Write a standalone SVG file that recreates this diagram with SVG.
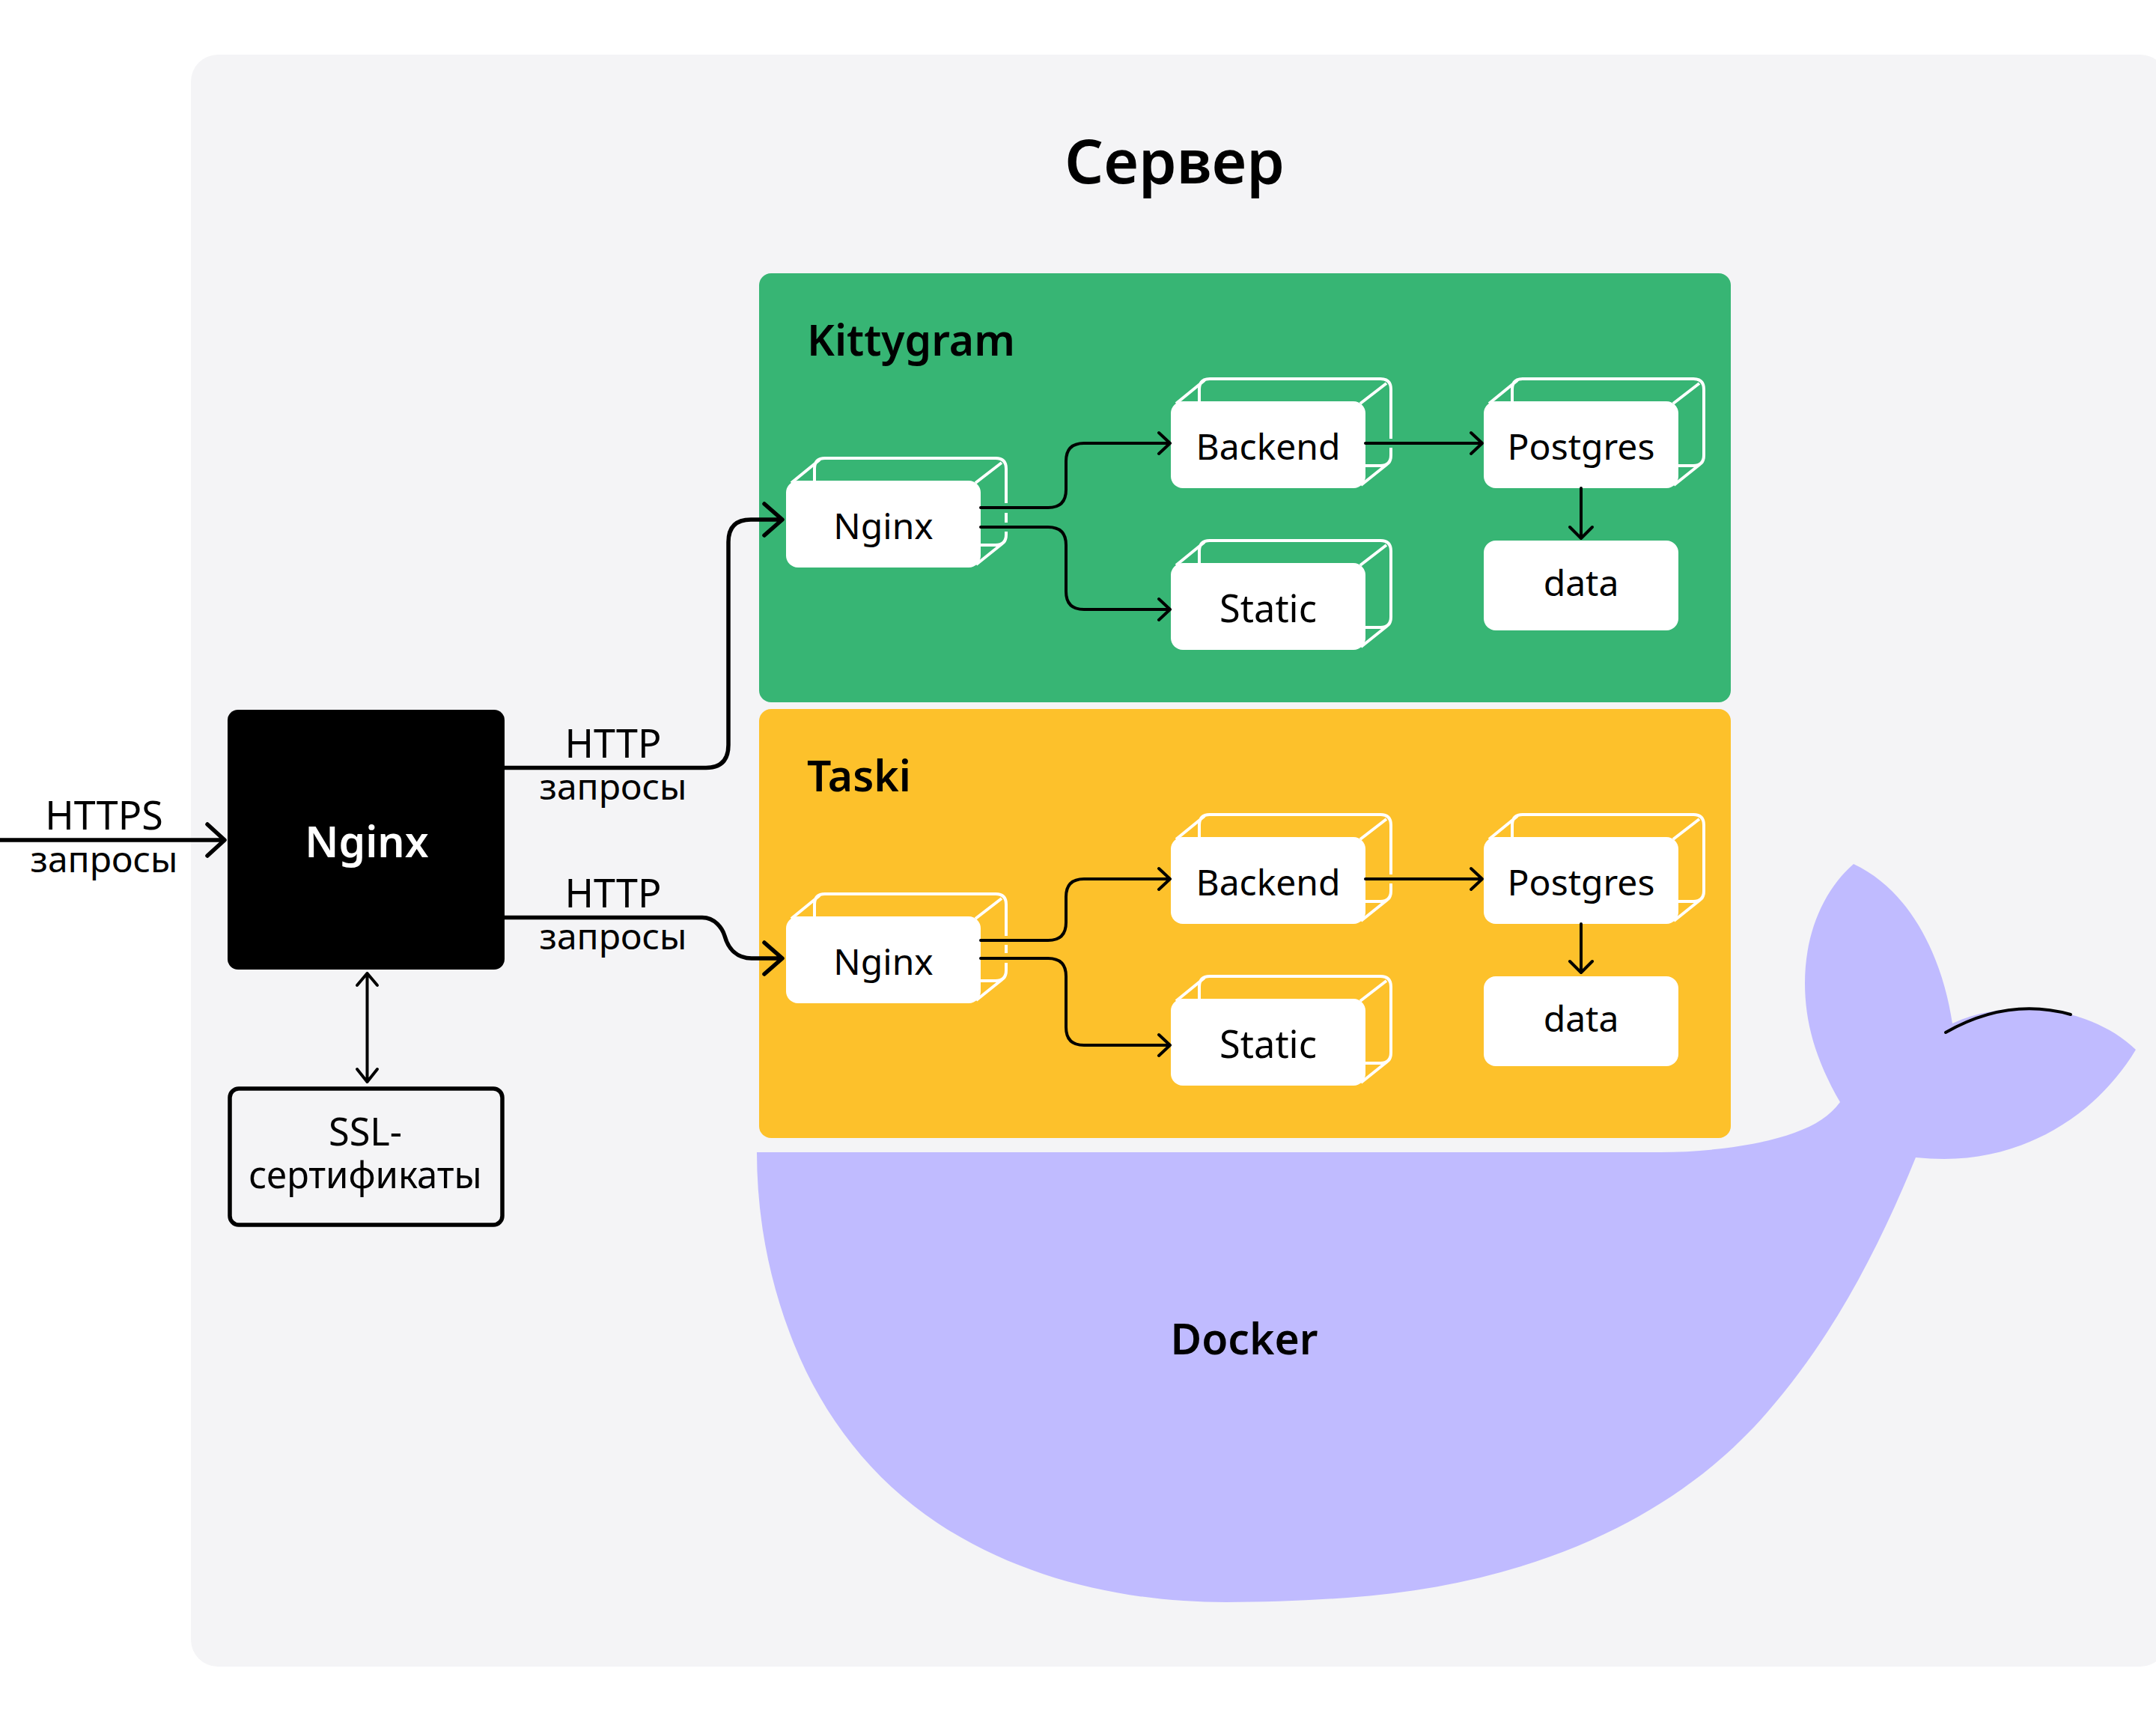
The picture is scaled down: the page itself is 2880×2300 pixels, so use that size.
<svg xmlns="http://www.w3.org/2000/svg" width="2880" height="2300" viewBox="0 0 2880 2300">
<style>
text{font-family:"Noto Sans","Liberation Sans",sans-serif;fill:#000;text-anchor:middle}
.l{font-size:48px}
.k{font-size:50.500px}
.p{font-size:52px}
.h{font-size:57px;font-weight:600}
.w{fill:#fff;stroke:none}
.c{fill:none;stroke:#fff;stroke-width:4;stroke-linecap:butt}
.t{fill:none;stroke:#000;stroke-width:4;stroke-linecap:round;stroke-linejoin:round}
.b{fill:none;stroke:#000;stroke-width:5.500;stroke-linecap:round;stroke-linejoin:round}
</style>
<defs>
<rect id="front" class="w" width="260" height="116" rx="16"/>
<path id="frame" class="c" d="M7 3 L45 -28 M38 2 V-16 Q38 -30 52 -30 H280 Q294 -30 294 -16 M253 3 L288 -24 M258 86 H280 Q294 86 294 72 M254 112 L289 84"/>
<g id="cube-kn"><use href="#frame"/><path class="c" d="M294 -16 V30 M294 43 V56 M294 68 V72"/><use href="#front"/></g>
<g id="cube-tn"><use href="#frame"/><path class="c" d="M294 -16 V26 M294 38 V49 M294 62 V72"/><use href="#front"/></g>
<g id="cube-b"><use href="#frame"/><path class="c" d="M294 -16 V50 M294 62 V72"/><use href="#front"/></g>
<g id="cube-s"><use href="#frame"/><path class="c" d="M294 -16 V72"/><use href="#front"/></g>
</defs>
<rect id="server" x="255" y="73" width="2640" height="2153" rx="36" fill="#f4f4f6"/>
<text x="1569" y="245" style="font-size:81px;font-weight:600">Сервер</text>
<g id="docker">
<path fill="#c0bbff" d="M1011 1539 H2218 C2280 1539 2350 1530 2397 1513 C2425 1503 2445 1490 2458 1472 C2425 1415 2411 1365 2411 1313 C2411 1245 2437 1188 2476 1154 C2553 1190 2595 1280 2608 1367 C2640 1352 2675 1347 2708 1347 C2755 1347 2815 1365 2853 1402 C2800 1490 2705 1548 2597 1548 C2585 1548 2572 1547 2559 1546 C2509 1669 2448 1786 2361 1886 C2222 2047 2012 2119 1800 2134 C1745 2138 1690 2140 1638 2140 C1505 2140 1370 2110 1258 2038 C1168 1980 1101 1895 1061 1796 C1028 1714 1011 1628 1011 1539 Z"/>
<path fill="none" stroke="#000" stroke-width="4" stroke-linecap="round" d="M2599 1379 C2650 1350 2705 1338 2766 1355"/>
<text class="h" x="1662" y="1809">Docker</text>
</g>
<g id="kittygram">
<rect x="1014" y="365" width="1298" height="573" rx="16" fill="#37b574"/>
<text class="h" x="1078" y="475" style="text-anchor:start">Kittygram</text>
</g>
<g id="taski">
<rect x="1014" y="947" width="1298" height="573" rx="16" fill="#fdc12b"/>
<text class="h" x="1078" y="1057" style="text-anchor:start">Taski</text>
</g>
<g id="k-nginx"><use href="#cube-kn" x="1050" y="642"/><text class="l" x="1180" y="720">Nginx</text></g>
<g id="k-backend"><use href="#cube-b" x="1564" y="536"/><text class="l" x="1694" y="614">Backend</text></g>
<g id="k-static"><use href="#cube-s" x="1564" y="752"/><text class="k" x="1694" y="831">Static</text></g>
<g id="k-postgres"><use href="#cube-s" x="1982" y="536"/><text class="l" x="2112" y="614">Postgres</text></g>
<g id="k-data"><rect class="w" x="1982" y="722" width="260" height="120" rx="16"/><text class="l" x="2112" y="796">data</text></g>
<g id="t-nginx"><use href="#cube-tn" x="1050" y="1224"/><text class="l" x="1180" y="1302">Nginx</text></g>
<g id="t-backend"><use href="#cube-b" x="1564" y="1118"/><text class="l" x="1694" y="1196">Backend</text></g>
<g id="t-static"><use href="#cube-s" x="1564" y="1334"/><text class="k" x="1694" y="1413">Static</text></g>
<g id="t-postgres"><use href="#cube-s" x="1982" y="1118"/><text class="l" x="2112" y="1196">Postgres</text></g>
<g id="t-data"><rect class="w" x="1982" y="1304" width="260" height="120" rx="16"/><text class="l" x="2112" y="1378">data</text></g>
<g id="nginx-main"><rect x="304" y="948" width="370" height="347" rx="14" fill="#000"/><text class="h" x="490" y="1145" style="fill:#fff">Nginx</text></g>
<g id="ssl"><rect x="307" y="1454" width="364" height="182" rx="12" fill="none" stroke="#000" stroke-width="5.500"/><text class="k" x="488" y="1530">SSL-</text><text class="l" x="488" y="1587" style="font-size:49px">сертификаты</text></g>
<g id="connectors">
<path class="b" d="M0 1122 H298 M277 1101 L300 1122 L277 1143"/>
<path class="b" d="M674 1025.500 H943 Q973 1025.500 973 995 V724 Q973 694 1003 694 H1043 M1021 673 L1045 694 L1021 715"/>
<path class="b" d="M674 1225.500 H938 C955 1225.500 965 1240 968 1250 C973 1268 985 1280 1004 1280 H1043 M1021 1259 L1045 1280 L1021 1301"/>
<path class="t" d="M490.500 1300 V1445 M477 1316 L490.500 1300 L504 1316 M477 1428 L490.500 1445 L504 1428"/>
<g id="k-conn">
<path class="t" d="M1310 678 H1400 Q1424 678 1424 654 V616 Q1424 592 1448 592 H1562 M1548 578 L1563 592 L1548 606"/>
<path class="t" d="M1310 704 H1400 Q1424 704 1424 728 V790 Q1424 814 1448 814 H1562 M1548 800 L1563 814 L1548 828"/>
<path class="t" d="M1824 592 H1979 M1965 578 L1980 592 L1965 606"/>
<path class="t" d="M2112 652 V718 M2097 704 L2112 719 L2127 704"/>
</g>
<g id="t-conn">
<path class="t" d="M1310 1256 H1400 Q1424 1256 1424 1232 V1198 Q1424 1174 1448 1174 H1562 M1548 1160 L1563 1174 L1548 1188"/>
<path class="t" d="M1310 1280 H1400 Q1424 1280 1424 1304 V1372 Q1424 1396 1448 1396 H1562 M1548 1382 L1563 1396 L1548 1410"/>
<path class="t" d="M1824 1174 H1979 M1965 1160 L1980 1174 L1965 1188"/>
<path class="t" d="M2112 1234 V1298 M2097 1284 L2112 1299 L2127 1284"/>
</g>
</g>
<g id="labels">
<text class="p" x="139" y="1108">HTTPS</text><text class="l" x="139" y="1165">запросы</text>
<text class="p" x="819" y="1012">HTTP</text><text class="l" x="819" y="1068">запросы</text>
<text class="p" x="819" y="1212">HTTP</text><text class="l" x="819" y="1268">запросы</text>
</g>
</svg>
